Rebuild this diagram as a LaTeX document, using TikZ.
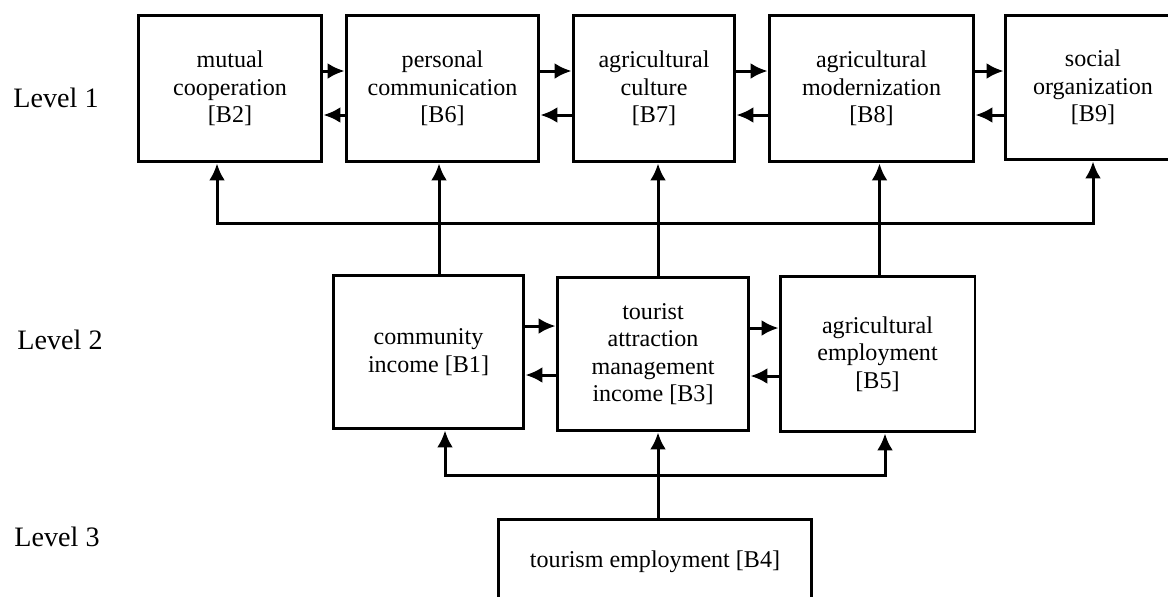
\documentclass[tikz,border=0pt]{standalone}
\usepackage{fontspec}
\setmainfont{Liberation Serif}
\usetikzlibrary{arrows.meta}

\begin{document}
\begin{tikzpicture}[x=0.02cm, y=-0.02cm, line width=0.06cm,
    >={Latex[length=0.34cm,width=0.32cm]},
    box/.style={rectangle, draw, align=center, inner sep=2pt,
      font=\fontsize{13.7}{15.6}\selectfont},
    level/.style={font=\fontsize{16}{19}\selectfont}]
    \useasboundingbox (0,0) rectangle (1168,596);

    % Level 1
    \node[box, minimum width=3.68cm, minimum height=2.94cm] (B2) at (230,88.5) {mutual\\cooperation\\{[B2]}};
    \node[box, minimum width=3.86cm, minimum height=2.94cm] (B6) at (442.5,88.5) {personal\\communication\\{[B6]}};
    \node[box, minimum width=3.24cm, minimum height=2.94cm] (B7) at (654,88.5) {agricultural\\culture\\{[B7]}};
    \node[box, minimum width=4.1cm, minimum height=2.94cm] (B8) at (871.5,88.5) {agricultural\\modernization\\{[B8]}};
    \node[box, minimum width=3.52cm, minimum height=2.9cm] (B9) at (1093,87.5) {social\\organization\\{[B9]}};

    % Level 2
    \node[box, minimum width=3.82cm, minimum height=3.08cm] (B1) at (428.5,352) {community\\income [B1]};
    \node[box, minimum width=3.84cm, minimum height=3.08cm] (B3) at (653,354) {tourist\\attraction\\management\\income [B3]};
    \node[box, minimum width=3.9cm, minimum height=3.12cm] (B5) at (877.5,354) {agricultural\\employment\\{[B5]}};

    % Level 3
    \node[box, minimum width=6.28cm, minimum height=1.72cm] (B4) at (655,562) {tourism employment [B4]};

    \node[level] (L1) at (56,98) {Level 1};
    \node[level] (L2) at (60,340) {Level 2};
    \node[level] (L3) at (57,537) {Level 3};

    \coordinate (upbus) at (0,223);
    \coordinate (lowbus) at (0,475);

    % two-way links in level 1
    \draw[->] ([yshift=0.35cm]B2.east) -- ([yshift=0.35cm]B2.east -| B6.west);
    \draw[<-] ([yshift=-0.53cm]B2.east) -- ([yshift=-0.53cm]B2.east -| B6.west);
    \draw[->] ([yshift=0.35cm]B6.east) -- ([yshift=0.35cm]B6.east -| B7.west);
    \draw[<-] ([yshift=-0.53cm]B6.east) -- ([yshift=-0.53cm]B6.east -| B7.west);
    \draw[->] ([yshift=0.35cm]B7.east) -- ([yshift=0.35cm]B7.east -| B8.west);
    \draw[<-] ([yshift=-0.53cm]B7.east) -- ([yshift=-0.53cm]B7.east -| B8.west);
    \draw[->] ([yshift=0.35cm]B8.east) -- ([yshift=0.35cm]B8.east -| B9.west);
    \draw[<-] ([yshift=-0.53cm]B8.east) -- ([yshift=-0.53cm]B8.east -| B9.west);

    % two-way links in level 2
    \draw[->] ([yshift=0.52cm]B1.east) -- ([yshift=0.52cm]B1.east -| B3.west);
    \draw[<-] ([yshift=-0.46cm]B1.east) -- ([yshift=-0.46cm]B1.east -| B3.west);
    \draw[->] ([yshift=0.52cm]B3.east) -- ([yshift=0.52cm]B3.east -| B5.west);
    \draw[<-] ([yshift=-0.44cm]B3.east) -- ([yshift=-0.44cm]B3.east -| B5.west);

    % level 2 up to level 1
    \draw[->] ([xshift=0.21cm]B1.north) -- ([xshift=0.21cm]B1.north |- B6.south);
    \draw[->] ([xshift=0.1cm]B3.north) -- ([xshift=0.1cm]B3.north |- B7.south);
    \draw[->] ([xshift=0.04cm]B5.north) -- ([xshift=0.04cm]B5.north |- B8.south);
    \draw[<->] ([xshift=-0.26cm]B2.south) -- ([xshift=-0.26cm]B2.south |- upbus) -| (B9.south);

    % level 3 up to level 2
    \draw[->] ([xshift=0.06cm]B4.north) -- ([xshift=0.06cm]B4.north |- B3.south);
    \draw[<->] ([xshift=0.33cm]B1.south) -- ([xshift=0.33cm]B1.south |- lowbus) -| ([xshift=0.15cm]B5.south);
  \end{tikzpicture}
\end{document}
